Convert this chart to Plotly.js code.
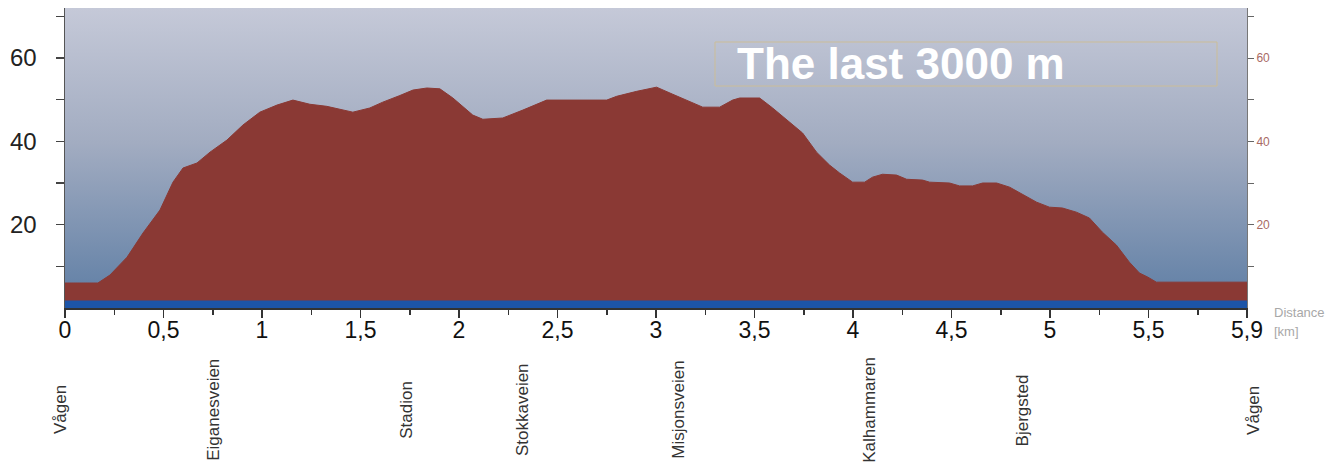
<!DOCTYPE html>
<html>
<head>
<meta charset="utf-8">
<script src="https://cdn.plot.ly/plotly-3.0.1.min.js"></script>
<style>
  html, body { margin: 0; padding: 0; background: #ffffff; }
  #chart { width: 1343px; height: 467px; }
</style>
</head>
<body>
<div id="chart"></div>
<script>
// Elevation profile (distance in km, elevation in m)
const distKm = [0, 0.167, 0.228, 0.315, 0.396, 0.482, 0.548, 0.599, 0.67, 0.736, 0.822, 0.903, 0.989,
  1.076, 1.157, 1.243, 1.329, 1.41, 1.461, 1.547, 1.613, 1.70, 1.766, 1.837, 1.903, 1.969, 2.004,
  2.07, 2.121, 2.222, 2.324, 2.445, 2.75, 2.80, 2.902, 3.003, 3.085, 3.156, 3.237, 3.323, 3.389,
  3.425, 3.526, 3.592, 3.678, 3.744, 3.815, 3.881, 3.932, 3.998, 4.059, 4.099, 4.15, 4.221, 4.272,
  4.353, 4.389, 4.49, 4.541, 4.607, 4.658, 4.729, 4.795, 4.861, 4.932, 4.997, 5.063, 5.134, 5.2,
  5.266, 5.337, 5.403, 5.454, 5.497, 5.54, 6.0];
const elevM = [6.0, 6.0, 7.9, 12.2, 18, 23.5, 30.2, 33.6, 34.8, 37.4, 40.3, 43.9, 47,
  48.7, 49.9, 48.9, 48.4, 47.5, 47, 48, 49.4, 51, 52.3, 52.8, 52.6, 50.4, 49.0,
  46.3, 45.3, 45.6, 47.5, 49.9, 49.9, 50.8, 52, 53, 51.3, 49.9, 48.2, 48.2, 49.9,
  50.4, 50.4, 48, 44.6, 42, 37.4, 34.3, 32.4, 30.2, 30.2, 31.4, 32.1, 31.9, 30.9,
  30.7, 30.2, 30, 29.3, 29.3, 30, 30, 29, 27.3, 25.4, 24.2, 24, 23, 21.6,
  18.2, 15.1, 11, 8.4, 7.4, 6.2, 6.2];

// Sea level band
const seaKm = [0, 6];
const seaLevel = [1.8, 1.8];

// Axis ticks
const xRange = [0, 6];
const xTickVals = [0, 0.5, 1, 1.5, 2, 2.5, 3, 3.5, 4, 4.5, 5, 5.5, 6];
const xTickText = ['0', '0,5', '1', '1,5', '2', '2,5', '3', '3,5', '4', '4,5', '5', '5,5', '5,9'];
const yTickVals = [10, 20, 30, 40, 50, 60, 70];
const yTickText = ['', '20', '', '40', '', '60', ''];

// Place names along the route
const places = ['Vågen', 'Eiganesveien', 'Stadion', 'Stokkaveien', 'Misjonsveien', 'Kalhammaren', 'Bjergsted', 'Vågen'];
const placeKm = [-0.025, 0.75, 1.73, 2.32, 3.11, 4.08, 4.86, 6.03];

const titleText = 'The last 3000 m';

const svgBg = '<svg xmlns="http://www.w3.org/2000/svg" width="100" height="100" preserveAspectRatio="none">' +
  '<defs><linearGradient id="g" x1="0" y1="0" x2="0" y2="1">' +
  '<stop offset="0" stop-color="#c5c9d8"/>' +
  '<stop offset="0.45" stop-color="#a2acc1"/>' +
  '<stop offset="1" stop-color="#5d7da4"/>' +
  '</linearGradient></defs><rect width="100" height="100" fill="url(#g)"/></svg>';
const bgSource = 'data:image/svg+xml;base64,' + btoa(svgBg);

const traces = [
  {
    x: distKm, y: elevM, type: 'scatter', mode: 'lines',
    fill: 'tozeroy', fillcolor: '#8a3934',
    line: { color: '#8a3934', width: 1 },
    hoverinfo: 'skip', showlegend: false
  },
  {
    x: seaKm, y: seaLevel, type: 'scatter', mode: 'lines', yaxis: 'y2',
    fill: 'tozeroy', fillcolor: '#1d55a8',
    line: { color: '#1d55a8', width: 0 },
    hoverinfo: 'skip', showlegend: false
  }
];

const plotTop = 8, plotBottom = 308, plotLeft = 65, plotRight = 1247;
const ph = plotBottom - plotTop, pw = plotRight - plotLeft;

const annotations = places.map((p, i) => ({
  x: (placeKm[i] - xRange[0]) / (xRange[1] - xRange[0]), xref: 'paper',
  y: (plotBottom - 410) / ph, yref: 'paper',
  text: p, showarrow: false, textangle: -90,
  xanchor: 'center', yanchor: 'middle',
  font: { family: 'Liberation Sans, Arial, sans-serif', size: 17, color: '#333333' }
}));
annotations.push({
  x: (735 - plotLeft) / pw, xref: 'paper', y: (plotBottom - 63) / ph, yref: 'paper',
  text: '<b>' + titleText + '</b>', showarrow: false,
  xanchor: 'left', yanchor: 'middle',
  font: { family: 'Liberation Sans, Arial, sans-serif', size: 44, color: '#ffffff' }
});
annotations.push({
  x: (1272 - plotLeft) / pw, xref: 'paper', y: (plotBottom - 312) / ph, yref: 'paper',
  text: 'Distance', showarrow: false, xanchor: 'left', yanchor: 'middle',
  font: { family: 'Liberation Sans, Arial, sans-serif', size: 13, color: '#a8a8a8' }
});
annotations.push({
  x: (1272 - plotLeft) / pw, xref: 'paper', y: (plotBottom - 331) / ph, yref: 'paper',
  text: '[km]', showarrow: false, xanchor: 'left', yanchor: 'middle',
  font: { family: 'Liberation Sans, Arial, sans-serif', size: 13, color: '#a8a8a8' }
});

const layout = {
  width: 1343, height: 467,
  margin: { l: plotLeft, r: 1343 - plotRight, t: plotTop, b: 467 - plotBottom },
  paper_bgcolor: '#ffffff',
  plot_bgcolor: 'rgba(0,0,0,0)',
  showlegend: false,
  images: [{
    source: bgSource, xref: 'paper', yref: 'paper', x: 0, y: 1, sizex: 1, sizey: 1,
    xanchor: 'left', yanchor: 'top', sizing: 'stretch', layer: 'below'
  }],
  xaxis: {
    range: xRange, tickmode: 'array', tickvals: xTickVals, ticktext: xTickText,
    ticks: 'outside', ticklen: 8, tickwidth: 1.5, tickcolor: '#333',
    ticklabelstandoff: -7,
    showline: true, linecolor: '#333', linewidth: 1.5,
    showgrid: false, zeroline: false,
    tickfont: { family: 'Liberation Sans Narrow, Arial Narrow, Liberation Sans, Arial, sans-serif', size: 23, color: '#111' },
    minor: { tickmode: 'linear', tick0: 0, dtick: 0.25, ticks: 'outside', ticklen: 5, tickwidth: 1.5, tickcolor: '#333', showgrid: false }
  },
  yaxis: {
    range: [0, 72], tickmode: 'array', tickvals: yTickVals, ticktext: yTickText,
    ticks: 'outside', ticklen: 8, tickwidth: 1.5, tickcolor: '#444',
    ticklabelstandoff: 14,
    showline: true, linecolor: '#555', linewidth: 1.5,
    showgrid: false, zeroline: false,
    tickfont: { family: 'Liberation Sans, Arial, sans-serif', size: 24, color: '#222' }
  },
  yaxis2: {
    range: [0, 72], overlaying: 'y', side: 'right', anchor: 'x',
    tickmode: 'array', tickvals: yTickVals, ticktext: yTickText,
    ticks: 'outside', ticklen: 6, tickwidth: 1, tickcolor: '#666',
    showline: true, linecolor: '#777', linewidth: 1,
    showgrid: false, zeroline: false,
    tickfont: { family: 'Liberation Sans, Arial, sans-serif', size: 12, color: '#a86a64' }
  },
  shapes: [{
    type: 'rect', xref: 'paper', yref: 'paper',
    x0: (715 - plotLeft) / pw, x1: (1217 - plotLeft) / pw,
    y0: (plotBottom - 86) / ph, y1: (plotBottom - 42) / ph,
    line: { color: '#cbbd98', width: 1 }, fillcolor: 'rgba(0,0,0,0)'
  }],
  annotations: annotations
};

Plotly.newPlot('chart', traces, layout, { staticPlot: true, displayModeBar: false });
</script>
</body>
</html>
